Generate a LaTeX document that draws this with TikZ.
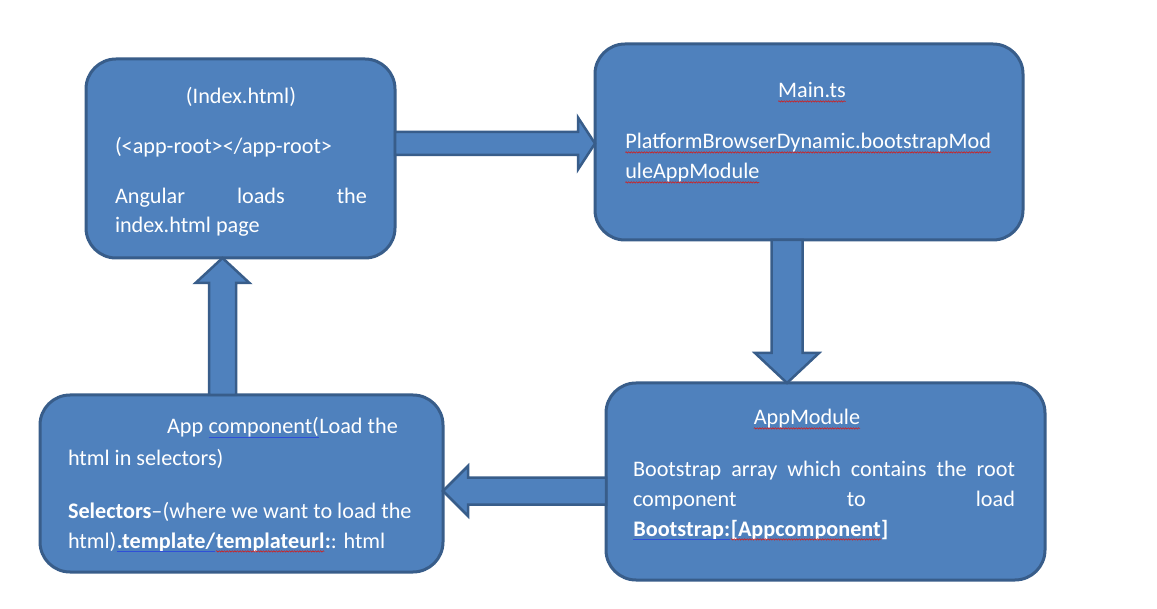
\documentclass[tikz,border=0pt]{standalone}
\usepackage{fontspec}
\setmainfont{Carlito}
\usetikzlibrary{calc,decorations.pathmorphing}
\definecolor{boxfill}{HTML}{4F81BD}
\definecolor{boxline}{HTML}{385D8A}
\definecolor{spellred}{HTML}{D02020}
\definecolor{grammarblue}{HTML}{2F4FD8}
\newcommand\wavy[1]{\tikz[baseline=(wv.base),x=1pt,y=1pt]{\node[inner sep=0pt,outer sep=0pt,text=white](wv){#1};\draw[spellred,line width=0.6pt,decorate,decoration={snake,amplitude=0.7pt,segment length=2.6pt}]([yshift=-3.4pt]wv.base west)--([yshift=-3.4pt]wv.base east);}}
\newcommand\gline[1]{\tikz[baseline=(gl.base),x=1pt,y=1pt]{\node[inner sep=0pt,outer sep=0pt,text=white](gl){#1};\draw[grammarblue,line width=0.8pt]([yshift=-3.2pt]gl.base west)--([yshift=-3.2pt]gl.base east);}}
\tikzset{
  box/.style={rectangle,rounded corners=30pt,fill=boxfill,draw=boxline,line width=3pt,inner sep=0pt,outer sep=0pt},
  blockarr/.style={fill=boxfill,draw=boxline,line width=2.5pt,line join=miter},
  txt/.style={text=white,font=\fontsize{22.2}{29}\selectfont,inner sep=0pt,outer sep=0pt}
}
\newcommand\blockarrow[5]{%
  \coordinate (h-#1) at ($(#2)!#5!(#1)$);
  \draw[blockarr] ($(#1)!#3!90:(#2)$) -- ($(h-#1)!#3!90:(#2)$) -- ($(h-#1)!#4!90:(#2)$) -- (#2)
    -- ($(h-#1)!#4!-90:(#2)$) -- ($(h-#1)!#3!-90:(#2)$) -- ($(#1)!#3!-90:(#2)$) -- cycle;}
\begin{document}
\begin{tikzpicture}[x=1pt,y=-1pt]
\fill[white] (0,0) rectangle (1157,609);
\useasboundingbox (0,0) rectangle (1157,609);
% boxes
\node[box,minimum width=309pt,minimum height=199pt] (idx) at (240.5,158.5) {};
\node[box,minimum width=428pt,minimum height=196pt] (main) at (809,142) {};
\node[box,minimum width=439pt,minimum height=197pt] (appmod) at (825.5,481.5) {};
\node[box,minimum width=403pt,minimum height=177pt] (comp) at (241.5,483.5) {};
% arrows
\coordinate (ya1) at (0,143.5);
\coordinate (a1s) at (idx.east |- ya1);
\coordinate (a1e) at (main.west |- ya1);
\blockarrow{a1s}{a1e}{11.5pt}{26pt}{17pt}
\coordinate (xa2) at (787,0);
\coordinate (a2s) at (main.south -| xa2);
\coordinate (a2e) at (appmod.north -| xa2);
\blockarrow{a2s}{a2e}{15.5pt}{32pt}{30pt}
\coordinate (xa3) at (222.5,0);
\coordinate (a3s) at (comp.north -| xa3);
\coordinate (a3e) at (idx.south -| xa3);
\blockarrow{a3s}{a3e}{13.5pt}{27pt}{25pt}
\coordinate (ya4) at (0,491);
\coordinate (a4s) at (appmod.west |- ya4);
\coordinate (a4e) at (comp.east |- ya4);
\blockarrow{a4s}{a4e}{13.5pt}{25pt}{25pt}
% box 1 text
\node[txt,anchor=base] (i1) at (241,104) {(Index.html)};
\node[txt,anchor=base west] (i2) at (115,154) {(<app-root></app-root>};
\node[txt,anchor=base west] (i3) at (115,204) {\makebox[252pt][s]{Angular loads the}};
\node[txt,anchor=base west] (i4) at (115,233) {index.html page};
% box 2 text
\node[txt,anchor=base] (m1) at (812,98) {\wavy{Main.ts}};
\node[txt,anchor=base west] (m2) at (625,149) {\wavy{PlatformBrowserDynamic.bootstrapMod}};
\node[txt,anchor=base west] (m3) at (625,179) {\wavy{uleAppModule}};
% box 3 text
\node[txt,anchor=base] (p1) at (807,425) {\wavy{AppModule}};
\node[txt,anchor=base west] (p2) at (633,476) {\makebox[382pt][s]{Bootstrap array which contains the root}};
\node[txt,anchor=base west] (p3) at (633,506) {\makebox[382pt][s]{component to load}};
\node[txt,anchor=base west] (p4) at (633,536) {\textbf{\gline{Bootstrap:}\wavy{[Appcomponent}]}};
% box 4 text
\node[txt,anchor=base west] (c1) at (167,434) {App \gline{component(}Load the};
\node[txt,anchor=base west] (c2) at (68,466) {html in selectors)};
\node[txt,anchor=base west] (c3) at (68,518) {\textbf{Selectors}--(where we want to load the};
\node[txt,anchor=base west] (c4) at (68,548) {html)\textbf{\gline{.template/}\wavy{templateurl}:}: html};
\end{tikzpicture}
\end{document}
